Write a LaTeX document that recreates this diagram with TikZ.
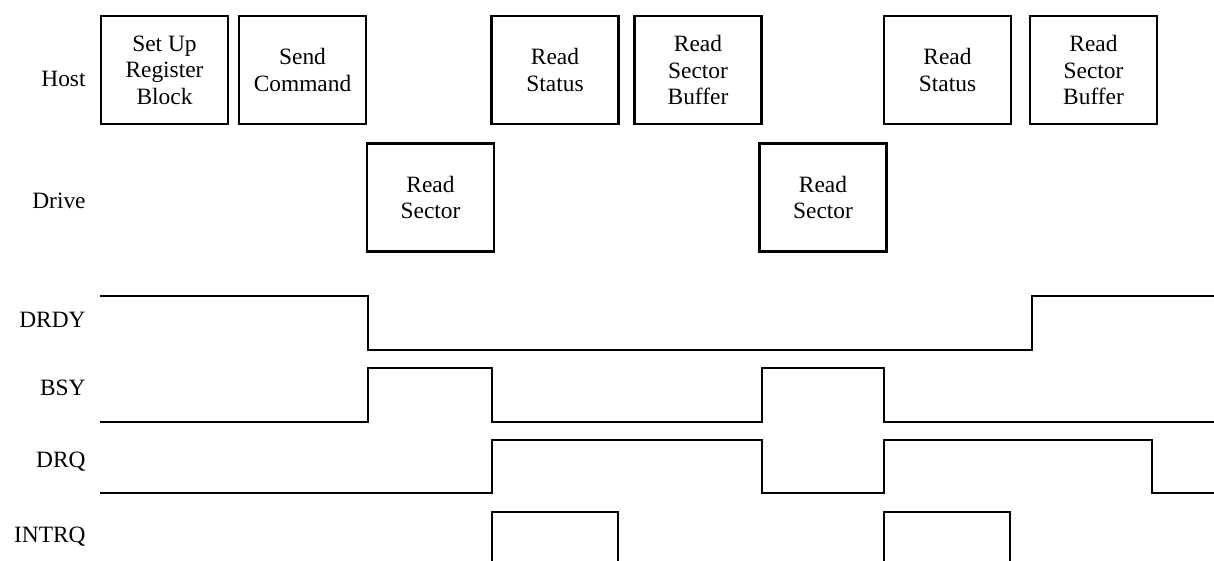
\documentclass[tikz,border=0pt]{standalone}
\usepackage{fontspec}
\setmainfont{Liberation Serif}
\usetikzlibrary{positioning}

\begin{document}
\begin{tikzpicture}[
    x=0.5pt, y=-0.5pt,
    task/.style={rectangle, draw=black, line width=1.4pt, inner sep=0pt,
                 minimum width=63.5pt, minimum height=54pt, align=center,
                 font=\fontsize{11.7}{13.2}\selectfont},
    lane/.style={anchor=base east, inner sep=0pt,
                 font=\fontsize{11.7}{13.2}\selectfont},
    wave/.style={line width=1pt, line join=miter}
]
    \useasboundingbox (0,0) rectangle (1214,561);

    % Host tasks
    \node[task] (setup)  at (164.5,70) {Set Up\\Register\\Block};
    \node[task] (send)   at (302.5,70) {Send\\Command};
    \node[task] (stat1)  at (555,70)   {Read\\Status};
    \node[task] (buf1)   at (698,70)   {Read\\Sector\\Buffer};
    \node[task] (stat2)  at (947.5,70) {Read\\Status};
    \node[task] (buf2)   at (1093.5,70) {Read\\Sector\\Buffer};

    % Drive tasks
    \node[task] (sect1) at (430.5,197.5) {Read\\Sector};
    \node[task] (sect2) at (823,197.5)   {Read\\Sector};

    % Lane labels
    \node[lane] (host)  at (86,87)  {Host};
    \node[lane] (drive) at (86,209) {Drive};
    \node[lane] (drdy)  at (86,327) {DRDY};
    \node[lane] (bsy)   at (86,395) {BSY};
    \node[lane] (drq)   at (86,467) {DRQ};
    \node[lane] (intrq) at (86,542) {INTRQ};

    % Signals
    \draw[wave] (100,296) -- (368,296) -- (368,350) -- (1032,350)
        -- (1032,296) -- (1214,296);
    \draw[wave] (100,422) -- (368,422) -- (368,368) -- (492,368)
        -- (492,422) -- (762,422) -- (762,368) -- (884,368)
        -- (884,422) -- (1214,422);
    \draw[wave] (100,493) -- (492,493) -- (492,440) -- (762,440)
        -- (762,493) -- (884,493) -- (884,440) -- (1152,440)
        -- (1152,493) -- (1214,493);
    \draw[wave] (492,561) -- (492,512) -- (618,512) -- (618,561);
    \draw[wave] (884,561) -- (884,512) -- (1010,512) -- (1010,561);
\end{tikzpicture}
\end{document}
